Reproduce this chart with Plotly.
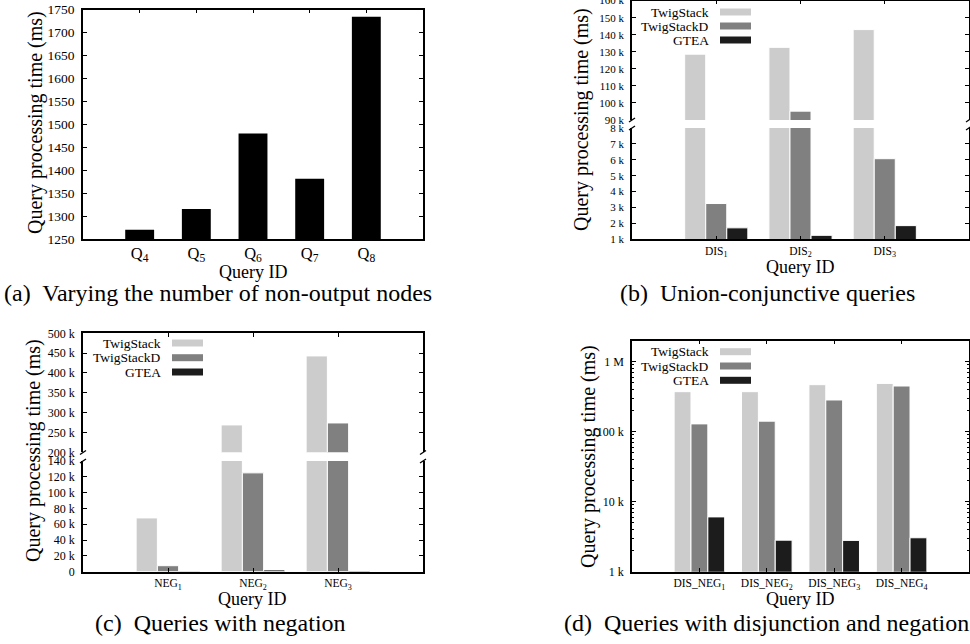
import plotly.graph_objects as go

W, H = 970, 644
FONT = "Liberation Serif"


def fx(p):
    return p / W


def fy(p):
    return 1 - p / H


# ---------------- data ----------------
series_names = ["TwigStack", "TwigStackD", "GTEA"]
series_colors = ["#cccccc", "#808080", "#1c1c1c"]

a_queries = ["Q<sub>4</sub>", "Q<sub>5</sub>", "Q<sub>6</sub>", "Q<sub>7</sub>", "Q<sub>8</sub>"]
a_times = [1271, 1316, 1480, 1382, 1734]

b_queries = ["DIS<sub>1</sub>", "DIS<sub>2</sub>", "DIS<sub>3</sub>"]
b_twigstack = [128600, 132600, 143000]
b_twigstackd = [3250, 95200, 6070]
b_gtea = [1720, 1250, 1860]
b_top_ticks = [90000, 100000, 110000, 120000, 130000, 140000, 150000, 160000]
b_top_labels = ["90 k", "100 k", "110 k", "120 k", "130 k", "140 k", "150 k", "160 k"]
b_bot_ticks = [1000, 2000, 3000, 4000, 5000, 6000, 7000, 8000]
b_bot_labels = ["1 k", "2 k", "3 k", "4 k", "5 k", "6 k", "7 k", "8 k"]

c_queries = ["NEG<sub>1</sub>", "NEG<sub>2</sub>", "NEG<sub>3</sub>"]
c_twigstack = [68000, 269000, 443000]
c_twigstackd = [7600, 125000, 274000]
c_gtea = [800, 2300, 1500]
c_top_ticks = [200000, 250000, 300000, 350000, 400000, 450000, 500000]
c_top_labels = ["200 k", "250 k", "300 k", "350 k", "400 k", "450 k", "500 k"]
c_bot_ticks = [0, 20000, 40000, 60000, 80000, 100000, 120000, 140000]
c_bot_labels = ["0", "20 k", "40 k", "60 k", "80 k", "100 k", "120 k", "140 k"]

d_queries = ["DIS_NEG<sub>1</sub>", "DIS_NEG<sub>2</sub>", "DIS_NEG<sub>3</sub>", "DIS_NEG<sub>4</sub>"]
d_twigstack = [372000, 372000, 468000, 488000]
d_twigstackd = [129000, 141000, 283000, 448000]
d_gtea = [6060, 2820, 2800, 3050]
d_ticks = [1000, 10000, 100000, 1000000]
d_labels = ["1 k", "10 k", "100 k", "1 M"]
d_minor = [m * 10 ** e for e in (3, 4, 5) for m in range(2, 10)] + [2000000]

captions = [
    "(a)\u00a0 Varying the number of non-output nodes",
    "(b)\u00a0 Union-conjunctive queries",
    "(c)\u00a0 Queries with negation",
    "(d)\u00a0 Queries with disjunction and negation",
]
ytitle = "Query processing time (ms)"
xtitle = "Query ID"

fig = go.Figure()

fig.add_trace(go.Bar(x=a_queries, y=a_times, xaxis="x", yaxis="y",
                     marker=dict(color="black", line=dict(width=0)),
                     width=0.51, showlegend=False))


def add_group(queries, values_list, xa, ya):
    for name, col, vals in zip(series_names, series_colors, values_list):
        fig.add_trace(go.Bar(x=queries, y=vals, name=name, xaxis=xa, yaxis=ya,
                             marker=dict(color=col, line=dict(color="white", width=1)),
                             showlegend=False))


add_group(b_queries, [b_twigstack, b_twigstackd, b_gtea], "x2", "y2")
add_group(b_queries, [b_twigstack, b_twigstackd, b_gtea], "x3", "y3")
add_group(c_queries, [c_twigstack, c_twigstackd, c_gtea], "x4", "y4")
add_group(c_queries, [c_twigstack, c_twigstackd, c_gtea], "x5", "y5")
add_group(d_queries, [d_twigstack, d_twigstackd, d_gtea], "x6", "y6")


def axis(size, **kw):
    d = dict(showline=True, linecolor="black", linewidth=1.5, ticks="inside",
             ticklen=4, tickcolor="black", tickwidth=1, showgrid=False,
             zeroline=False, automargin=False, ticklabeloverflow="allow",
             tickfont=dict(family=FONT, size=size, color="black"))
    d.update(kw)
    return d


LEFT_A, RIGHT_A = 83, 423
LEFT_B, RIGHT_B = 632, 969
XT = 11.5

fig.update_layout(
    width=W, height=H, margin=dict(l=0, r=0, t=0, b=0, pad=0, autoexpand=False),
    paper_bgcolor="white", plot_bgcolor="white",
    barmode="group", bargap=0.25, bargroupgap=0.0,
    font=dict(family=FONT, color="black"),
    xaxis=axis(16.5, domain=[fx(LEFT_A), fx(RIGHT_A)], anchor="y", type="category",
               range=[-1, 5], mirror="ticks", ticklabelstandoff=-2),
    yaxis=axis(13.5, domain=[fy(239.3), fy(9.5)], anchor="x", range=[1250, 1750],
               tick0=1250, dtick=50, mirror="ticks", ticklabelstandoff=4),
    xaxis2=axis(XT, domain=[fx(LEFT_B), fx(RIGHT_B)], anchor="y2", type="category",
                range=[-1, 3], ticklabelstandoff=0),
    yaxis2=axis(11, domain=[fy(239.3), fy(128)], anchor="x2", range=[1000, 8000],
                tickvals=b_bot_ticks, ticktext=b_bot_labels, mirror="ticks",
                ticklabelstandoff=4),
    xaxis3=axis(XT, domain=[fx(LEFT_B), fx(RIGHT_B)], anchor="y3", type="category",
                range=[-1, 3], side="top", showticklabels=False),
    yaxis3=axis(11, domain=[fy(120), fy(0.6)], anchor="x3", range=[90000, 160000],
                tickvals=b_top_ticks, ticktext=b_top_labels, mirror="ticks",
                ticklabelstandoff=4),
    xaxis4=axis(XT, domain=[fx(LEFT_A), fx(RIGHT_A)], anchor="y4", type="category",
                range=[-1, 3], ticklabelstandoff=0),
    yaxis4=axis(12, domain=[fy(571.7), fy(461)], anchor="x4", range=[0, 140000],
                tickvals=c_bot_ticks, ticktext=c_bot_labels, mirror="ticks",
                ticklabelstandoff=4),
    xaxis5=axis(XT, domain=[fx(LEFT_A), fx(RIGHT_A)], anchor="y5", type="category",
                range=[-1, 3], side="top", showticklabels=False),
    yaxis5=axis(12, domain=[fy(452.3), fy(333.3)], anchor="x5", range=[200000, 500000],
                tickvals=c_top_ticks, ticktext=c_top_labels, mirror="ticks",
                ticklabelstandoff=4),
    xaxis6=axis(XT, domain=[fx(LEFT_B), fx(RIGHT_B)], anchor="y6", type="category",
                range=[-1, 4], mirror="ticks", ticklabelstandoff=0),
    yaxis6=axis(12, domain=[fy(571.7), fy(340.5)], anchor="x6", type="log",
                range=[3, 6.301], tickvals=d_ticks, ticktext=d_labels, mirror="ticks",
                ticklabelstandoff=4,
                minor=dict(tickvals=d_minor, ticks="inside", ticklen=2,
                           tickcolor="black", showgrid=False)),
)

annotations = []
shapes = []


def text(x, y, s, size, angle=0, xanchor="center"):
    annotations.append(dict(x=fx(x), y=fy(y), xref="paper", yref="paper", text=s,
                            showarrow=False, textangle=angle, xanchor=xanchor,
                            yanchor="middle",
                            font=dict(family=FONT, size=size, color="black")))


text(35, 123, ytitle, 20, angle=-90)
text(253, 272, xtitle, 18)
text(581, 120, ytitle, 20, angle=-90)
text(800, 267, xtitle, 18)
text(33, 451, ytitle, 20, angle=-90)
text(252, 599, xtitle, 18)
text(588, 457, ytitle, 20, angle=-90)
text(800, 599, xtitle, 18)

text(218, 293, captions[0], 24)
text(767, 293, captions[1], 24)
text(220, 623, captions[2], 24)
text(766, 623, captions[3], 24)


def legend(text_right, sw_left, sw_right, rows):
    for name, col, yy in zip(series_names, series_colors, rows):
        text(text_right, yy, name, 13.5, xanchor="right")
        shapes.append(dict(type="rect", xref="paper", yref="paper",
                           x0=fx(sw_left), x1=fx(sw_right), y0=fy(yy + 3.5), y1=fy(yy - 3.5),
                           fillcolor=col, line=dict(width=0)))


legend(711, 720, 751, [12, 26, 40])
legend(163, 172, 203, [343, 357.7, 372])
legend(711, 720, 751, [351.7, 366, 380.3])


def brk(x, y_top_end, y_bot_start):
    for yy in (y_top_end, y_bot_start):
        shapes.append(dict(type="line", xref="paper", yref="paper",
                           x0=fx(x - 3), y0=fy(yy + 2), x1=fx(x + 3), y1=fy(yy - 2),
                           line=dict(color="black", width=1.3)))


brk(LEFT_B, 120, 128)
brk(RIGHT_B, 120, 128)
brk(LEFT_A, 452.5, 461)
brk(RIGHT_A, 452.5, 461)

fig.update_layout(annotations=annotations, shapes=shapes)

fig.write_html(
    "out.html",
    config={"displayModeBar": False},
    post_script="document.documentElement.style.margin='0';"
                "document.body.style.margin='0';document.body.style.padding='0';"
                "document.body.style.overflow='hidden';",
)
